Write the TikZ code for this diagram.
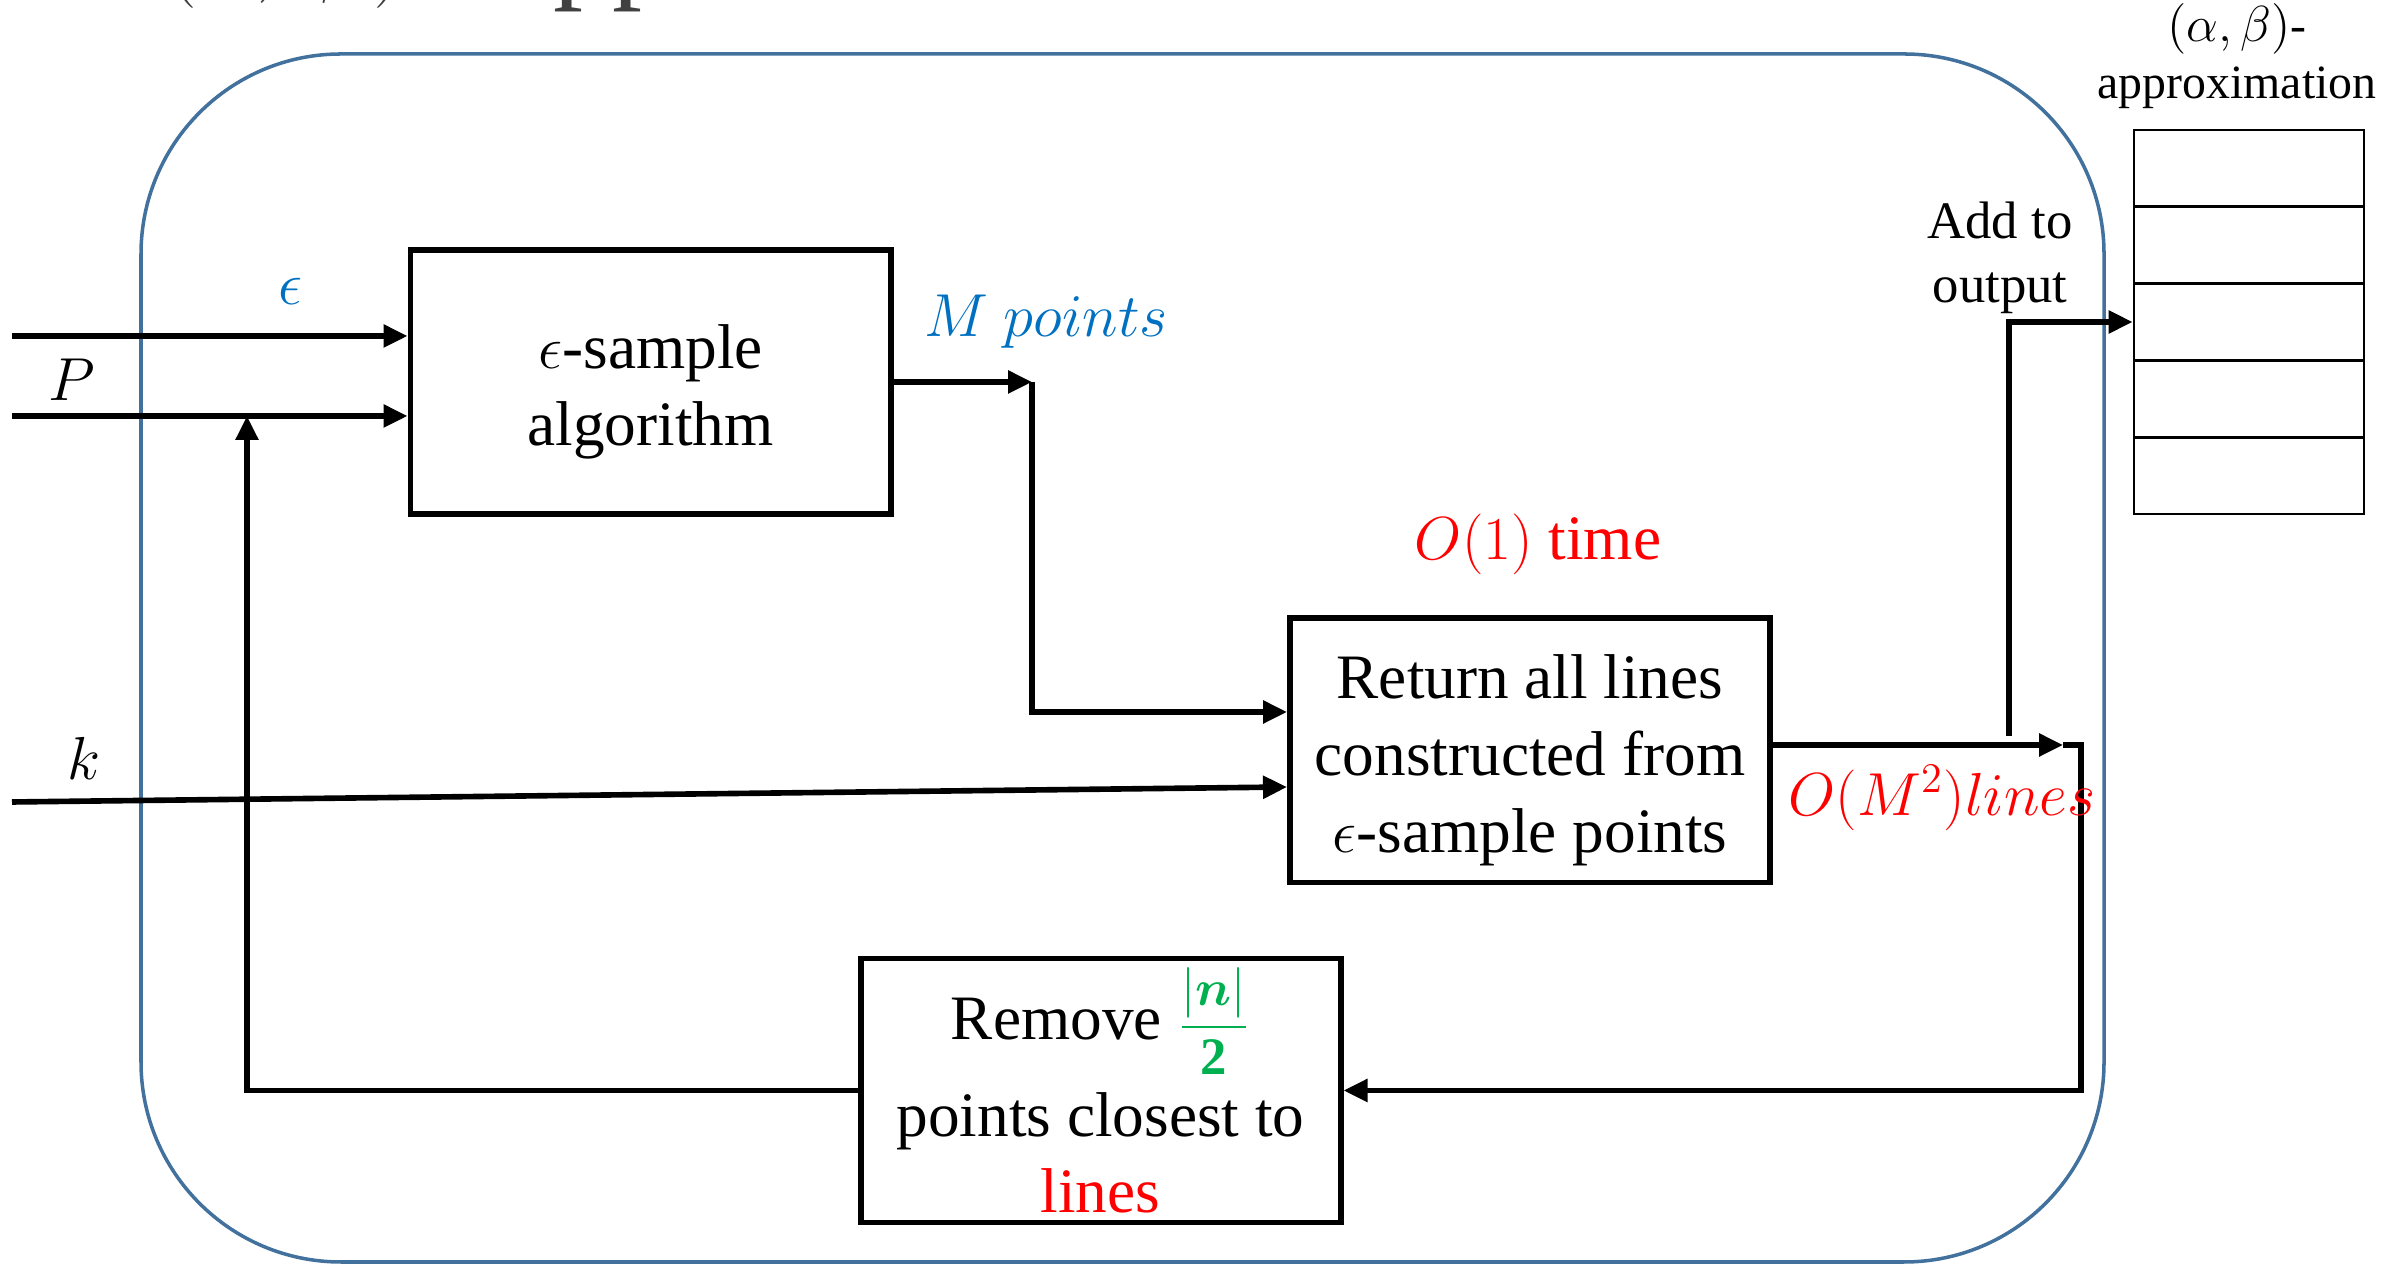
\documentclass[tikz,border=0pt]{standalone}
\usepackage{amsmath}
\usepackage{fontspec}
\setmainfont{Liberation Serif}
\usetikzlibrary{arrows.meta,positioning}
\definecolor{frameblue}{HTML}{41719C}
\definecolor{txtblue}{HTML}{0070C0}
\definecolor{txtgreen}{HTML}{00B050}
\definecolor{titlegray}{HTML}{404040}
\newcommand{\topgap}{\rule{0pt}{18pt}}
\begin{document}
\begin{tikzpicture}[font=\fontsize{18}{21.8}\selectfont,
		blk/.style={draw,line width=1.7pt,minimum width=4.8cm,minimum height=2.64cm,align=center,inner sep=0pt},
		cell/.style={draw,line width=0.8pt,minimum width=2.3cm,minimum height=0.768cm},
		arr/.style={line width=1.6pt,-{Triangle[length=2.4mm,width=2.2mm]}}]
			\path[use as bounding box](0,0)rectangle(24.05,12.65);
			\clip(0,0)rectangle(24.05,12.65);
			% title, cut at the top
			\node[anchor=base west,inner sep=0pt,text=titlegray,font=\fontsize{34}{40}\selectfont](title)at(1.66,12.78){$(\alpha,\mkern6mu\beta)$\hspace{0.28cm}-\hspace{0.28cm}approximation};
			\draw[frameblue,line width=1pt,rounded corners=2cm](1.41,0.03)rectangle(21.04,12.11);
			% blocks
			\node[blk](samp)at(6.505,8.83){\topgap$\epsilon$-sample\\algorithm};
			\node[blk](ret)at(15.30,5.145){\topgap Return all lines\\constructed from\\$\epsilon$-sample points};
			\node[blk](rem)at(11.005,1.745){Remove {\fontsize{15}{15}\selectfont\color{txtgreen}$\dfrac{|\boldsymbol{n}|}{\mathbf{2}}$}\\[4pt]points closest to\\\textcolor{red}{lines}};
			\foreach \i in {1,...,5}
				\node[cell](row\i)at(22.49,{11.734-0.768*\i}){};
			% inputs
			\coordinate(epsin)at(0.12,9.29);
			\coordinate(pin)at(0.12,8.49);
			\coordinate(kin)at(0.12,4.63);
			\draw[arr](epsin)--(epsin-|samp.west);
			\draw[arr](pin)--(pin-|samp.west);
			\draw[arr](kin)--([yshift=-0.365cm]ret.west);
			\node[text=txtblue](epslbl)at(2.91,9.74){$\epsilon$};
			\node(plbl)at(0.72,8.85){$P$};
			\node(klbl)at(0.84,5.07){$k$};
			% M points
			\coordinate(mpt)at(10.32,8.83);
			\draw[arr](samp.east)--(mpt);
			\draw[arr](mpt)|-([yshift=0.385cm]ret.west);
			\node[text=txtblue](mlbl)at(10.46,9.43){$M\ points$};
			% lines out
			\coordinate(lend)at(20.63,5.2);
			\coordinate(rturn)at(20.81,5.2);
			\draw[arr](ret.east|-lend)--(lend);
			\draw[arr](lend)--(rturn)|-(rem.east);
			\coordinate(outup)at(20.09,5.29);
			\draw[arr](outup)|-(row3.west);
			% back to P
			\coordinate(fbtop)at(2.47,8.49);
			\draw[arr](rem.west)-|(fbtop);
			\node[text=red](tlbl)at(15.38,7.21){$O(1)$ time};
			\node[text=red](llbl)at(19.42,4.67){$O(M^2)lines$};
			\node[align=center,font=\fontsize{15}{18.3}\selectfont](addlbl)at(20.00,10.07){Add to\\output};
			\node[align=center,font=\fontsize{13.6}{16.2}\selectfont](tablbl)at(22.37,12.09){$(\alpha,\beta)$-\\approximation};
		\end{tikzpicture}
\end{document}
